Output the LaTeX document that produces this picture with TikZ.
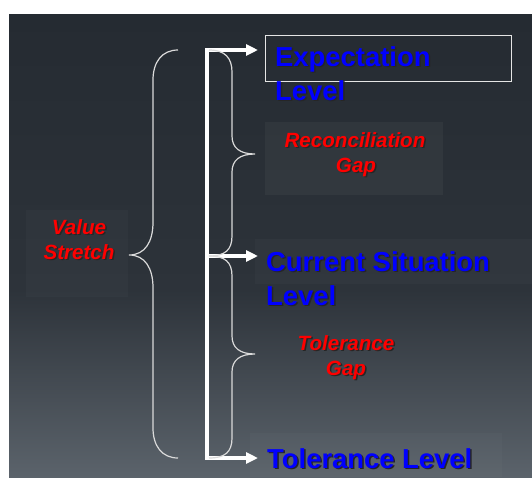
\documentclass[tikz,border=0pt]{standalone}
\usepackage{fontspec}
\setmainfont{Liberation Sans}
\usetikzlibrary{arrows.meta}
\definecolor{bgtop}{HTML}{252B32}
\definecolor{bgmid}{HTML}{2D333A}
\definecolor{bgbot}{HTML}{5B636B}
\definecolor{bracecol}{HTML}{DADADA}
\newcommand\shd[1]{\leavevmode\rlap{\kern1.5pt\raisebox{-1.5pt}{\color{black!85}#1}}#1}
\tikzset{
  bluetxt/.style={text=blue, font=\fontsize{27.4}{34}\selectfont\bfseries, inner sep=0pt, anchor=base west},
  redtxt/.style={text=red, font=\fontsize{20.6}{25}\selectfont\bfseries\itshape, inner sep=0pt, anchor=base},
  panel/.style={fill=white, fill opacity=#1, draw=none, inner sep=0pt},
  panel/.default=0.03,
  outlinebox/.style={draw=white!80!gray, line width=1.1pt, inner sep=0pt},
  mainline/.style={draw=white, line width=3.6pt, line join=miter},
  tip/.style={-{Triangle[length=12pt,width=11pt]}},
  bracepath/.style={draw=bracecol, line width=1.2pt},
}
\begin{document}
\begin{tikzpicture}[x=1pt,y=-1pt]
\useasboundingbox (0,0) rectangle (532,477);
\fill[white] (0,0) rectangle (532,477);
\shade[top color=bgtop, bottom color=bgmid] (9,14) rectangle (532,290.5);
\shade[top color=bgmid, bottom color=bgbot] (9,290) rectangle (532,477);

% panels
\node[outlinebox, minimum width=246pt, minimum height=45.8pt] (expbox) at (388.7,58.5) {};
\node[panel=0.04, minimum width=178pt, minimum height=73pt] (recbox) at (354,158.5) {};
\node[panel=0.022, minimum width=102pt, minimum height=87pt] (valbox) at (77,253.5) {};
\node[panel=0.025, minimum width=277pt, minimum height=45pt] (curbox) at (393.5,261.5) {};
\node[panel=0.02, minimum width=252pt, minimum height=44pt] (tolbox) at (376,455) {};

% texts
\node[bluetxt] (exp1) at (275,66) {\shd{Expectation}};
\node[bluetxt] (exp2) at (275,100) {\shd{Level}};
\node[bluetxt] (cur1) at (266,271) {\shd{Current Situation}};
\node[bluetxt] (cur2) at (266,305) {\shd{Level}};
\node[bluetxt] (tollev) at (267,468) {\shd{Tolerance Level}};
\node[redtxt] (rec1) at (355,147) {\shd{Reconciliation}};
\node[redtxt] (rec2) at (356,172) {\shd{Gap}};
\node[redtxt] (val1) at (79,234) {\shd{Value}};
\node[redtxt] (val2) at (79,259) {\shd{Stretch}};
\node[redtxt] (tg1) at (346,350) {\shd{Tolerance}};
\node[redtxt] (tg2) at (346,375) {\shd{Gap}};

% main line and arrows
\coordinate (top) at (207,50);
\coordinate (mid) at (207,256);
\coordinate (bot) at (207,458);
\coordinate (tipE) at (258,50);
\coordinate (tipC) at (258,256);
\coordinate (tipT) at (258,458);
\draw[mainline, {Triangle[length=12pt,width=11pt]}-{Triangle[length=12pt,width=11pt]}] (tipE) -- (top) -- (bot) -- (tipT);
\draw[mainline, tip] (mid) -- (tipC);

% braces
\draw[bracepath] (209,50) .. controls (225,50) and (232,58) .. (232,72) -- (232,136)
  .. controls (232,148) and (240,154) .. (255,154)
  .. controls (240,154) and (232,160) .. (232,172) -- (232,236)
  .. controls (232,250) and (225,256) .. (209,256);
\draw[bracepath] (209,256) .. controls (225,256) and (232,262) .. (232,276) -- (232,336)
  .. controls (232,348) and (240,354) .. (255,354)
  .. controls (240,354) and (232,360) .. (232,372) -- (232,438)
  .. controls (232,452) and (225,458) .. (209,458);
\draw[bracepath] (178,50) .. controls (162,50) and (153,62) .. (153,80) -- (153,222)
  .. controls (153,242) and (145,255) .. (129,255)
  .. controls (145,255) and (153,268) .. (153,288) -- (153,428)
  .. controls (153,446) and (162,458) .. (178,458);
\end{tikzpicture}
\end{document}
